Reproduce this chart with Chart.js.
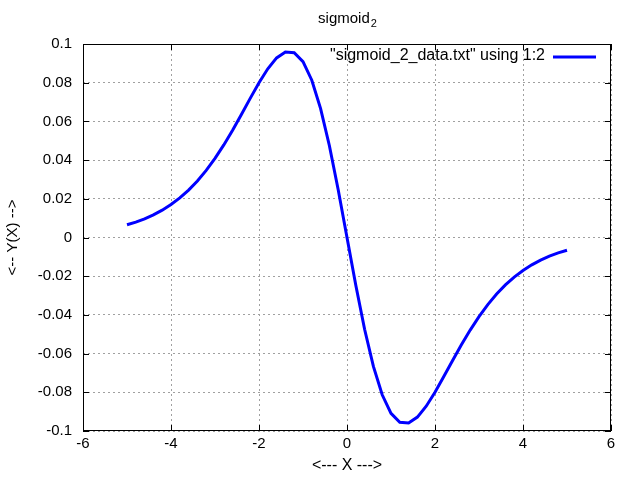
<!DOCTYPE html>
<html><head><meta charset="utf-8">
<script src="https://cdn.jsdelivr.net/npm/chart.js@4/dist/chart.umd.min.js"></script>
<style>html,body{margin:0;padding:0;background:#fff}#wrap{width:640px;height:480px}</style>
</head><body><div id="wrap"><canvas id="c" width="640" height="480"></canvas></div>
<script>
const xValues = [-5.0,-4.8,-4.6,-4.4,-4.2,-4.0,-3.8,-3.6,-3.4,-3.2,-3.0,-2.8,-2.6,-2.4,-2.2,-2.0,-1.8,-1.6,-1.4,-1.2,-1.0,-0.8,-0.6,-0.4,-0.2,0.0,0.2,0.4,0.6,0.8,1.0,1.2,1.4,1.6,1.8,2.0,2.2,2.4,2.6,2.8,3.0,3.2,3.4,3.6,3.8,4.0,4.2,4.4,4.6,4.8,5.0];
const yValues = [0.00656,0.00796,0.00966,0.01169,0.01413,0.01703,0.02047,0.02451,0.02923,0.03468,0.04089,0.04784,0.05546,0.06357,0.07189,0.07996,0.08719,0.09281,0.09590,0.09554,0.09086,0.08128,0.06665,0.04742,0.02467,0,-0.02467,-0.04742,-0.06665,-0.08128,-0.09086,-0.09554,-0.09590,-0.09281,-0.08719,-0.07996,-0.07189,-0.06357,-0.05546,-0.04784,-0.04089,-0.03468,-0.02923,-0.02451,-0.02047,-0.01703,-0.01413,-0.01169,-0.00966,-0.00796,-0.00656];
const xTicks = [-6,-4,-2,0,2,4,6];
const yTicks = [-0.1,-0.08,-0.06,-0.04,-0.02,0,0.02,0.04,0.06,0.08,0.1];
const titleText = 'sigmoid';
const titleSub = '2';
const legendText = '"sigmoid_2_data.txt" using 1:2';
const xTitle = '<--- X --->';
const yTitle = '<-- Y(X) -->';

const FONT = '"Liberation Sans", Arial, sans-serif';
const points = xValues.map((x,i)=>({x:x,y:yValues[i]}));

const deco = {
  id:'deco',
  afterDraw(chart){
    const ctx = chart.ctx, a = chart.chartArea;
    const xs = chart.scales.x, ys = chart.scales.y;
    ctx.save();
    ctx.strokeStyle='#000'; ctx.lineWidth=1;
    ctx.strokeRect(Math.round(a.left)+0.5, Math.round(a.top)+0.5, Math.round(a.right-a.left)-1, Math.round(a.bottom-a.top)-1);
    ctx.beginPath();
    xTicks.forEach(v=>{const p=Math.round(xs.getPixelForValue(v))+0.5;
      ctx.moveTo(p,a.bottom); ctx.lineTo(p,a.bottom-6);
      ctx.moveTo(p,a.top); ctx.lineTo(p,a.top+6);});
    yTicks.forEach(v=>{const p=Math.round(ys.getPixelForValue(v))+0.5;
      ctx.moveTo(a.left,p); ctx.lineTo(a.left+6,p);
      ctx.moveTo(a.right,p); ctx.lineTo(a.right-6,p);});
    ctx.stroke();
    ctx.fillStyle='#000';
    ctx.textBaseline='middle';
    ctx.font='15px '+FONT;
    const tw = ctx.measureText(titleText).width;
    ctx.font='11px '+FONT;
    const sw = ctx.measureText(titleSub).width;
    const cx = (a.left+a.right)/2;
    let tx = cx - (tw+sw)/2;
    ctx.font='15px '+FONT; ctx.textAlign='left';
    ctx.fillText(titleText, tx, 19);
    ctx.font='11px '+FONT;
    ctx.fillText(titleSub, tx+tw+1, 24);
    ctx.font='16px '+FONT; ctx.textAlign='right';
    ctx.fillText(legendText, 545, 56);
    ctx.strokeStyle='#0000ff'; ctx.lineWidth=3;
    ctx.beginPath(); ctx.moveTo(553,57); ctx.lineTo(596,57); ctx.stroke();
    ctx.textAlign='center';
    ctx.font='16px '+FONT;
    ctx.fillText(xTitle, cx, 466);
    ctx.font='15px '+FONT;
    ctx.translate(13,(a.top+a.bottom)/2);
    ctx.rotate(-Math.PI/2);
    ctx.fillText(yTitle, 0, 0);
    ctx.restore();
  }
};

new Chart(document.getElementById('c'), {
  type:'scatter',
  data:{datasets:[{data:points, showLine:true, borderColor:'#0000ff', backgroundColor:'#0000ff', borderWidth:3, pointRadius:0, tension:0, fill:false}]},
  options:{
    responsive:false, animation:false, devicePixelRatio:1,
    layout:{padding:{left:0,right:29,top:44,bottom:0}},
    plugins:{legend:{display:false}, title:{display:false}, tooltip:{enabled:false}},
    scales:{
      x:{type:'linear', min:-6, max:6,
        afterBuildTicks(s){s.ticks = xTicks.map(v=>({value:v}));},
        afterFit(s){s.height=49;},
        grid:{color:'#a0a0a0', lineWidth:1, drawTicks:false},
        border:{display:false, dash:[2,3]},
        ticks:{color:'#000', font:{family:FONT,size:15}, padding:4, maxRotation:0,
          callback:v=>String(v)}},
      y:{type:'linear', min:-0.1, max:0.1,
        afterBuildTicks(s){s.ticks = yTicks.map(v=>({value:v}));},
        afterFit(s){s.width=83;},
        grid:{color:'#a0a0a0', lineWidth:1, drawTicks:false},
        border:{display:false, dash:[2,3]},
        ticks:{color:'#000', font:{family:FONT,size:15}, padding:11,
          callback:v=>String(Number(v.toFixed(2)))}}
    }
  },
  plugins:[deco]
});
</script></body></html>
